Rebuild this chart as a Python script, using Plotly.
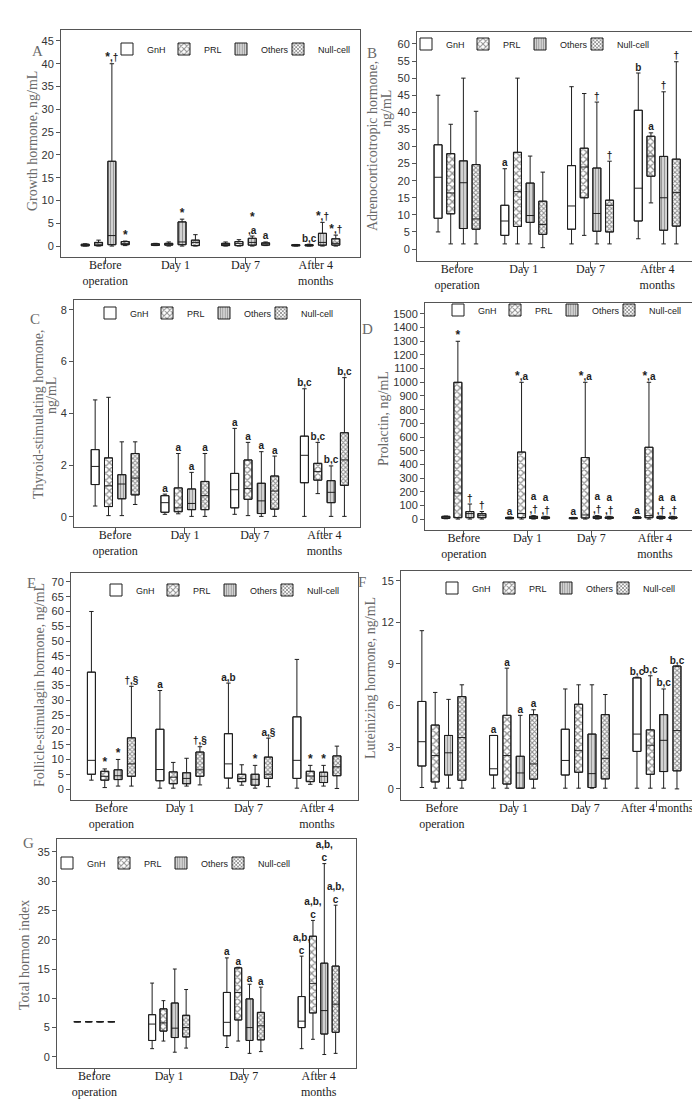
import plotly.graph_objects as go

W, H = 700, 1101

CATEGORIES = ["Before<br>operation", "Day 1", "Day 7", "After 4<br>months"]
CATEGORIES_F = ["Before<br>operation", "Day 1", "Day 7", "After 4 months"]
GROUPS = ["GnH", "PRL", "Others", "Null-cell"]

# Each array: rows = groups (GnH, PRL, Others, Null-cell), cols = time points
# ---- A: Growth hormone, ng/mL
GH_LO = [[0, 0.1, 0, 0], [0, 0, 0, 0], [0, 0, 0, 0], [0.1, 0, 0.1, 0]]
GH_Q1 = [[0.05, 0.15, 0.1, 0.05], [0.1, 0.2, 0.1, 0.05], [0.3, 0.3, 0.2, 0.2], [0.3, 0.1, 0.2, 0.2]]
GH_MED = [[0.2, 0.3, 0.3, 0.15], [0.4, 0.4, 0.6, 0.15], [2.3, 0.9, 0.8, 0.8], [0.6, 0.8, 0.5, 0.6]]
GH_Q3 = [[0.4, 0.5, 0.6, 0.3], [0.8, 0.6, 1.0, 0.3], [18.6, 5.3, 1.7, 2.8], [1.0, 1.3, 0.7, 1.6]]
GH_HI = [[0.5, 0.6, 0.9, 0.35], [1.3, 0.9, 1.4, 0.4], [40, 5.9, 2.2, 5.2], [1.1, 2.5, 0.9, 2.4]]
GH_LAB = [["", "", "", ""], ["", "", "", "b,c"], ["*,†", "*", "*<br>,a", "*,†"], ["*", "", "a", "*,†"]]

# ---- B: Adrenocorticotropic hormone, ng/mL
ACTH_LO = [[5, 1.5, 1.5, 3], [1.5, 1.5, 4, 13.5], [1.5, 1.5, 1.5, 1.5], [1.5, 0.4, 1.5, 1.5]]
ACTH_Q1 = [[9, 4, 5.8, 8.2], [10.3, 6.6, 15, 21.3], [6, 7.8, 5.2, 5.5], [5.8, 4.3, 5, 6.7]]
ACTH_MED = [[21, 8.2, 12.6, 17.8], [16.4, 16.8, 24, 27.2], [19.4, 9.8, 10.4, 15], [8.8, 7.2, 12.8, 16.5]]
ACTH_Q3 = [[30.5, 12.8, 24.4, 40.6], [27.9, 28.3, 29.5, 33], [25.8, 19.3, 23.7, 27.1], [24.7, 14, 14.3, 26.3]]
ACTH_HI = [[45, 23.5, 47.5, 51.5], [36.5, 50, 45.5, 34], [50, 27.2, 43, 46], [40.3, 22.5, 25.7, 54.8]]
ACTH_LAB = [["", "a", "", "b"], ["", "", "", "a"], ["", "", "†", "†"], ["", "", "†", "†"]]

# ---- C: Thyroid-stimulating hormone, ng/mL
TSH_LO = [[0.42, 0.1, 0.1, 0.02], [0.05, 0.12, 0.05, 0.9], [0.05, 0.02, 0.02, 0.02], [0.48, 0.02, 0.02, 0.02]]
TSH_Q1 = [[1.25, 0.18, 0.35, 1.32], [0.4, 0.2, 0.68, 1.42], [0.7, 0.28, 0.13, 0.55], [0.85, 0.28, 0.3, 1.22]]
TSH_MED = [[1.95, 0.55, 1.05, 2.38], [1.2, 0.35, 1.1, 1.75], [1.27, 0.52, 0.62, 0.95], [1.5, 0.82, 1.0, 2.2]]
TSH_Q3 = [[2.6, 0.82, 1.68, 3.12], [2.28, 1.12, 2.2, 2.07], [1.63, 1.08, 1.3, 1.4], [2.45, 1.37, 1.58, 3.25]]
TSH_HI = [[4.52, 0.88, 3.42, 4.95], [4.62, 2.45, 2.88, 2.88], [2.9, 1.72, 2.52, 1.97], [2.9, 2.45, 2.35, 5.38]]
TSH_LAB = [["", "a", "a", "b,c"], ["", "a", "a", "b,c"], ["", "a", "a", "b,c"], ["", "a", "a", "b,c"]]

# ---- D: Prolactin, ng/mL
PRL_LO = [[2, 2, 2, 3], [0, 0, 0, 0], [0, 0, 0, 0], [0, 0, 0, 0]]
PRL_Q1 = [[5, 3, 3, 5], [10, 10, 8, 10], [10, 5, 5, 5], [10, 5, 5, 5]]
PRL_MED = [[12, 8, 6, 10], [190, 40, 30, 25], [40, 10, 10, 10], [28, 10, 10, 10]]
PRL_Q3 = [[20, 12, 10, 15], [1000, 490, 450, 525], [55, 20, 20, 18], [40, 15, 15, 15]]
PRL_HI = [[22, 15, 12, 18], [1300, 1000, 1000, 1000], [110, 25, 25, 22], [55, 20, 20, 20]]
PRL_LAB = [["", "a", "a", "a"], ["*", "*,a", "*,a", "*,a"],
           ["†", "a<br>,†", "a<br>,†", "a<br>,†"], ["†", "a<br>,†", "a<br>,†", "a<br>,†"]]

# ---- E: Follicle-stimulating hormone, ng/mL
FSH_LO = [[3, 0.3, 0.3, 0.3], [0.5, 0.3, 1.3, 1.6], [1, 1, 0.3, 1], [1, 1.4, 0.8, 0.2]]
FSH_Q1 = [[5, 2.8, 3.7, 3.6], [3, 1.8, 2.5, 2.5], [3.2, 1.8, 1.3, 2.2], [4.3, 4.3, 3.6, 4.5]]
FSH_MED = [[9.7, 6.6, 8.5, 9.7], [4.3, 4, 3.6, 4.4], [4.5, 3.6, 3.3, 4.3], [8.5, 6.5, 5, 7.5]]
FSH_Q3 = [[39.5, 20.2, 18.7, 24.4], [6, 5.8, 5, 6], [6.5, 5.5, 5, 5.7], [17.3, 12.5, 10.8, 11.2]]
FSH_HI = [[60, 33.3, 35.8, 43.8], [6.8, 9, 8.2, 8], [10, 10.4, 8, 8], [34.7, 14.3, 17.2, 14.5]]
FSH_LAB = [["", "a", "a,b", ""], ["*", "", "", "*"], ["*", "", "*", "*"], ["†,§", "†,§", "a,§", ""]]

# ---- F: Luteinizing hormone, ng/mL
LH_LO = [[0.1, 0.05, 0.05, 0.05], [0.05, 0.05, 0.05, 0.05], [0.05, 0.05, 0.05, 0.05], [0.05, 0.05, 0.05, 0]]
LH_Q1 = [[1.65, 1.0, 1.0, 2.7], [0.5, 0.35, 1.2, 1.05], [1.0, 0.05, 0.1, 1.25], [0.62, 0.7, 0.72, 1.3]]
LH_MED = [[3.4, 1.45, 2.05, 3.95], [2.4, 2.4, 2.75, 3.15], [2.6, 1.15, 1.1, 3.5], [3.7, 1.8, 2.2, 4.2]]
LH_Q3 = [[6.3, 3.85, 4.3, 8.0], [4.6, 5.3, 6.1, 4.25], [3.85, 2.35, 3.95, 5.35], [6.65, 5.35, 5.35, 8.85]]
LH_HI = [[11.4, 3.85, 7.2, 8.05], [6.95, 8.7, 7.5, 8.15], [6.45, 5.3, 7.5, 7.2], [7.5, 5.7, 6.8, 8.85]]
LH_LAB = [["", "a", "", "b,c"], ["", "a", "", "b,c"], ["", "a", "", "b,c"], ["", "a", "", "b,c"]]

# ---- G: Total hormon index
THI_LO = [[6, 1.4, 1.6, 1.4], [6, 2.7, 2.7, 3.0], [6, 0.8, 0.6, 0.4], [6, 1.5, 0.9, 0.6]]
THI_Q1 = [[6, 2.8, 3.6, 5.0], [6, 4.4, 6.3, 7.5], [6, 3.3, 2.8, 3.9], [6, 3.4, 2.9, 4.2]]
THI_MED = [[6, 5.6, 5.9, 6.1], [6, 5.8, 11.0, 12.5], [6, 4.9, 5.0, 7.9], [6, 5.0, 5.3, 9.0]]
THI_Q3 = [[6, 7.2, 11.0, 10.3], [6, 8.2, 15.2, 20.6], [6, 9.2, 9.9, 16.0], [6, 7.1, 7.6, 15.5]]
THI_HI = [[6, 12.6, 16.9, 17.2], [6, 9.6, 15.3, 23.3], [6, 15, 12.4, 33], [6, 11.5, 11.9, 25.9]]
THI_LAB = [["", "", "a", "a,b,<br>c"], ["", "", "a", "a,b,<br>c"], ["", "", "a", "a,b,<br>c"], ["", "", "a", "a,b,<br>c"]]

# ------------------------------------------------------------------ styling
LINE = "#1e1e1e"
AXC = "#555555"
TITLE_C = "#6a6a6a"
SERIF = "Liberation Serif, Times New Roman, serif"
SANS = "Liberation Sans, Arial, sans-serif"

PATTERNS = [
    dict(color="white", pattern=None),
    dict(color="white", pattern=dict(shape="x", size=5, solidity=0.45, fgcolor="#222", bgcolor="white")),
    dict(color="#d4d4d4", pattern=dict(shape="|", size=3, solidity=0.4, fgcolor="#555", bgcolor="#d8d8d8")),
    dict(color="white", pattern=dict(shape="x", size=3.2, solidity=0.55, fgcolor="#1a1a1a", bgcolor="white")),
]

# panel layout in pixels: frame (x0, x1, y0, y1); leg = position of first legend swatch
PANELS = [
    dict(data=(GH_LO, GH_Q1, GH_MED, GH_Q3, GH_HI, GH_LAB), frame=(53, 352, 22, 249),
         xr=(-0.63, 3.63), yr=(-2.4, 47.4), dtick=5, cats=CATEGORIES, letter=("A", 22, 33),
         titles=[("Growth hormone, ng/mL", 24, 133)], leg=(121, 48), off=20, bw=8),
    dict(data=(ACTH_LO, ACTH_Q1, ACTH_MED, ACTH_Q3, ACTH_HI, ACTH_LAB), frame=(409, 688, 24, 253),
         xr=(-0.6, 3.58), yr=(-3.5, 63.5), dtick=5, cats=CATEGORIES, letter=("B", 364, 35),
         titles=[("Adrenocorticotropic hormone,", 365, 138), ("ng/mL", 378, 101)], leg=(420, 43), off=19, bw=8),
    dict(data=(TSH_LO, TSH_Q1, TSH_MED, TSH_Q3, TSH_HI, TSH_LAB), frame=(66, 352, 292, 519),
         xr=(-0.59, 3.51), yr=(-0.39, 8.38), dtick=2, cats=CATEGORIES, letter=("C", 20, 301),
         titles=[("Thyroid-stimulating hormone,", 30, 406), ("ng/mL", 43, 388)], leg=(104, 312), off=20, bw=8),
    dict(data=(PRL_LO, PRL_Q1, PRL_MED, PRL_Q3, PRL_HI, PRL_LAB), frame=(417, 689, 295, 522),
         xr=(-0.61, 3.66), yr=(-80, 1580), dtick=100, cats=CATEGORIES, letter=("D", 360, 311),
         titles=[("Prolactin, ng/mL", 375, 411)], leg=(452, 309), off=18, bw=8),
    dict(data=(FSH_LO, FSH_Q1, FSH_MED, FSH_Q3, FSH_HI, FSH_LAB), frame=(63, 350, 565, 792),
         xr=(-0.59, 3.6), yr=(-3.7, 73.0), dtick=5, cats=CATEGORIES, letter=("E", 17, 575),
         titles=[("Follicle-stimulagin hormone, ng/mL", 31, 677)], leg=(110, 589), off=20, bw=8),
    dict(data=(LH_LO, LH_Q1, LH_MED, LH_Q3, LH_HI, LH_LAB), frame=(393, 692, 563, 792),
         xr=(-0.57, 3.6), yr=(-0.8, 15.7), dtick=3, cats=CATEGORIES_F, letter=("F", 354, 574),
         titles=[("Luteinizing hormone, ng/mL", 362, 670)], leg=(446, 587), off=20, bw=8),
    dict(data=(THI_LO, THI_Q1, THI_MED, THI_Q3, THI_HI, THI_LAB), frame=(49, 348, 831, 1060),
         xr=(-0.5, 3.5), yr=(-1.9, 37.2), dtick=5, cats=CATEGORIES, letter=("G", 13, 845),
         titles=[("Total hormon index", 16, 947)], leg=(61, 862), off=17, bw=7),
]

LEG_DX, LEG_DY = 22, 7  # offset between legend anchor and first swatch


def fmt_label(s):
    return s.replace("*", "<span style='font-size:12px'>*</span>")


fig = go.Figure()
layout = dict(width=W, height=H, margin=dict(l=0, r=0, t=0, b=0, autoexpand=False),
              paper_bgcolor="white", plot_bgcolor="white", barmode="overlay",
              showlegend=True, annotations=[])

for k, p in enumerate(PANELS, start=1):
    lo, q1, med, q3, hi, lab = p["data"]
    x0, x1, y0, y1 = p["frame"]
    sfx = "" if k == 1 else str(k)
    xa, ya = "x" + sfx, "y" + sfx
    legname = "legend" + sfx
    unit = (x1 - x0) / (p["xr"][1] - p["xr"][0])
    offs = [-p["off"] / unit, -p["off"] / 3 / unit, p["off"] / 3 / unit, p["off"] / unit]
    bw = p["bw"] / unit

    for g in range(4):
        xs = [t + offs[g] for t in range(4)]
        st = PATTERNS[g]
        marker = dict(color=st["color"], line=dict(color=LINE, width=1))
        if st["pattern"]:
            marker["pattern"] = st["pattern"]
        fig.add_trace(go.Bar(x=xs, base=q1[g], y=[b - a for a, b in zip(q1[g], q3[g])],
                             width=bw, marker=marker, name=GROUPS[g], legend=legname,
                             xaxis=xa, yaxis=ya, hoverinfo="skip"))
    # invisible spacer entry so the last legend label is not clipped
    fig.add_trace(go.Scatter(x=[None], y=[None], mode="markers", name=" ",
                             marker=dict(color="rgba(0,0,0,0)", size=1), legend=legname,
                             xaxis=xa, yaxis=ya, hoverinfo="skip"))
    for g in range(4):
        xs = [t + offs[g] for t in range(4)]
        fig.add_trace(go.Box(x=xs, q1=q1[g], median=med[g], q3=q3[g], lowerfence=lo[g],
                             upperfence=hi[g], width=bw, fillcolor="rgba(0,0,0,0)",
                             line=dict(color=LINE, width=1), whiskerwidth=0.55,
                             boxpoints=False, showlegend=False, xaxis=xa, yaxis=ya,
                             hoverinfo="skip"))
    lx, ly, lt = [], [], []
    for g in range(4):
        for t in range(4):
            if lab[g][t]:
                lx.append(t + offs[g])
                ly.append(hi[g][t])
                lt.append(fmt_label(lab[g][t]))
    fig.add_trace(go.Scatter(x=lx, y=ly, text=lt, mode="text", textposition="top center",
                             textfont=dict(family=SANS, size=10, color=LINE, weight="bold"),
                             showlegend=False, xaxis=xa, yaxis=ya, cliponaxis=False,
                             hoverinfo="skip"))

    layout["xaxis" + sfx] = dict(domain=[x0 / W, x1 / W], range=list(p["xr"]), anchor=ya,
                                 tickmode="array", tickvals=[0, 1, 2, 3], ticktext=p["cats"],
                                 showline=True, mirror=True, linecolor=AXC, linewidth=1,
                                 ticks="outside", ticklen=6, tickcolor=AXC, showgrid=False,
                                 zeroline=False, ticklabelstandoff=-9,
                                 tickfont=dict(family=SERIF, size=12, color="#222"))
    layout["yaxis" + sfx] = dict(domain=[1 - y1 / H, 1 - y0 / H], range=list(p["yr"]), anchor=xa,
                                 dtick=p["dtick"], tick0=0, showline=True, mirror=True,
                                 linecolor=AXC, linewidth=1, ticks="outside", ticklen=4,
                                 tickcolor=AXC, showgrid=False, zeroline=False,
                                 tickfont=dict(family=SANS, size=11, color="#333"))
    layout[legname] = dict(orientation="h", x=(p["leg"][0] - LEG_DX) / W,
                           y=1 - (p["leg"][1] - LEG_DY) / H,
                           xanchor="left", yanchor="middle", bgcolor="rgba(0,0,0,0)",
                           font=dict(family=SANS, size=9, color="#222"),
                           entrywidthmode="pixels", entrywidth=12, itemclick=False,
                           itemdoubleclick=False)
    L, lxp, lyp = p["letter"]
    layout["annotations"].append(dict(text=L, x=lxp / W, y=1 - lyp / H, xref="paper", yref="paper",
                                      showarrow=False, font=dict(family=SERIF, size=15, color=TITLE_C)))
    for txt, tx, ty in p["titles"]:
        layout["annotations"].append(dict(text=txt, x=tx / W, y=1 - ty / H, xref="paper",
                                          yref="paper", showarrow=False, textangle=-90,
                                          xanchor="center", yanchor="middle",
                                          font=dict(family=SERIF, size=14, color=TITLE_C)))

fig.update_layout(**layout)
fig.write_html("out.html")
